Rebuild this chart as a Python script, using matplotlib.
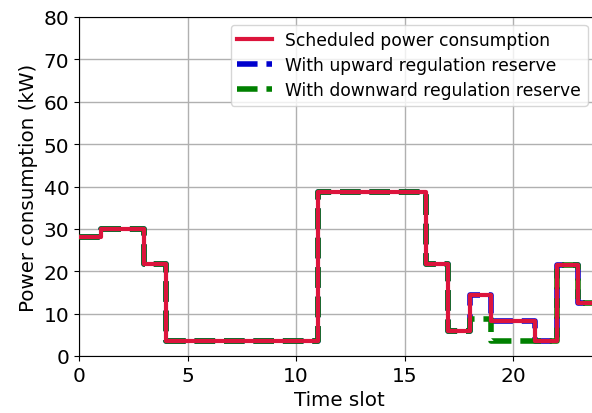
import numpy as np
import matplotlib.pyplot as plt

slots = np.arange(0, 25)
scheduled = [28, 30, 30, 21.8, 3.5, 3.5, 3.5, 3.5, 3.5, 3.5, 3.5, 38.8, 38.8, 38.8, 38.8, 38.8,
             21.8, 6, 14.5, 8.3, 8.3, 3.5, 21.5, 12.5, 12.5]
upward = [28, 30, 30, 21.8, 3.5, 3.5, 3.5, 3.5, 3.5, 3.5, 3.5, 38.8, 38.8, 38.8, 38.8, 38.8,
          21.8, 6, 14.5, 8.3, 8.3, 3.5, 21.5, 12.5, 12.5]
downward = [28, 30, 30, 21.8, 3.5, 3.5, 3.5, 3.5, 3.5, 3.5, 3.5, 38.8, 38.8, 38.8, 38.8, 38.8,
            21.8, 6, 8.7, 3.5, 3.5, 3.5, 21.5, 12.5, 12.5]

fig = plt.figure(figsize=(5.92, 4.14), dpi=100)
ax = fig.add_axes([79 / 592, 57 / 414, 521 / 592, 339 / 414])

ax.step(slots, upward, where='post', color='mediumblue', linestyle='--', linewidth=4,
        label='With upward regulation reserve', zorder=2)
ax.step(slots, downward, where='post', color='green', linestyle='--', linewidth=4,
        label='With downward regulation reserve', zorder=3)
ax.step(slots, scheduled, where='post', color='crimson', linewidth=3,
        label='Scheduled power consumption', zorder=4)

handles, labels = ax.get_legend_handles_labels()
order = [2, 0, 1]
ax.legend([handles[i] for i in order], [labels[i] for i in order],
          loc='upper right', bbox_to_anchor=(0.993, 1.003), fontsize=12.3,
          labelspacing=0.4)

ax.grid(True, color='#b0b0b0', linewidth=1)
ax.set_axisbelow(True)
ax.set_xlim(0, 24)
ax.set_ylim(0, 80)
ax.set_xticks([0, 5, 10, 15, 20])
ax.tick_params(labelsize=14.5)
ax.set_xlabel('Time slot', fontsize=14.3)
ax.set_ylabel('Power consumption (kW)', fontsize=14.3)

plt.savefig('out.png', dpi=100)
